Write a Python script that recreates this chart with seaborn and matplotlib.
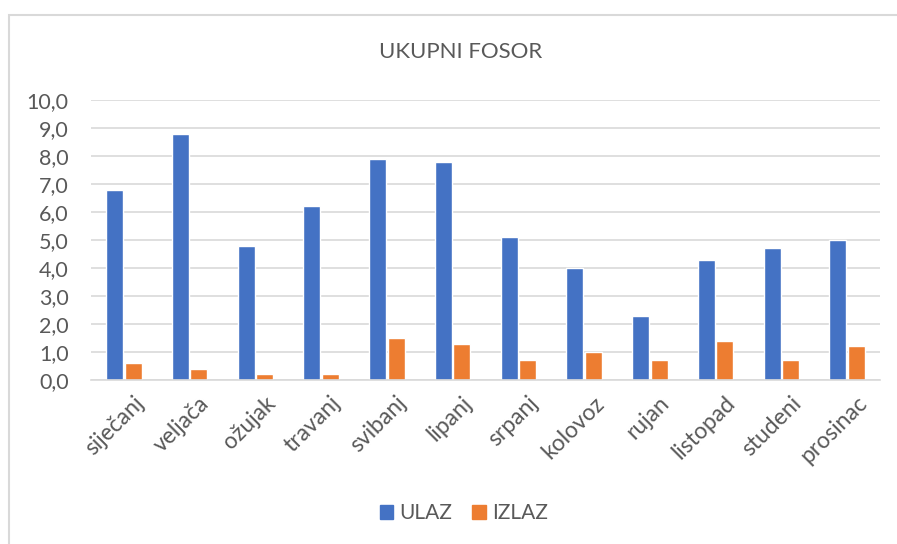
import numpy as np
import pandas as pd
import seaborn as sns
import matplotlib.pyplot as plt
from matplotlib.patches import Rectangle
import matplotlib.transforms as mtransforms

months = ["siječanj", "veljača", "ožujak", "travanj", "svibanj", "lipanj",
          "srpanj", "kolovoz", "rujan", "listopad", "studeni", "prosinac"]
ulaz = [6.8, 8.8, 4.8, 6.2, 7.9, 7.8, 5.1, 4.0, 2.3, 4.3, 4.7, 5.0]
izlaz = [0.6, 0.4, 0.2, 0.2, 1.5, 1.3, 0.7, 1.0, 0.7, 1.4, 0.7, 1.2]
series = ["ULAZ", "IZLAZ"]
colors = ["#4472C4", "#ED7D31"]

df = pd.DataFrame({"Mjesec": months * 2,
                   "Serija": [series[0]] * 12 + [series[1]] * 12,
                   "Vrijednost": ulaz + izlaz})

sns.set_style("white")
plt.rcParams["font.family"] = ["Lato", "DejaVu Sans"]
txt = "#595959"

fig = plt.figure(figsize=(8.97, 5.44), dpi=100)
ax = fig.add_axes([91 / 897, 1 - 380 / 544, 789 / 897, 280 / 544])

sns.barplot(data=df, x="Mjesec", y="Vrijednost", hue="Serija",
            palette=colors, saturation=1, width=0.56, gap=0.07, ax=ax,
            legend=False)

ax.set_ylim(0, 10)
ax.set_yticks(np.arange(0, 11, 1))
ax.set_yticklabels([f"{v:.1f}".replace(".", ",") for v in range(11)],
                   fontsize=15.5, color=txt)
ax.yaxis.grid(True, color="#d9d9d9", linewidth=1.2)
ax.set_axisbelow(True)
for s in ["top", "right", "left"]:
    ax.spines[s].set_visible(False)
ax.spines["bottom"].set_color("#d9d9d9")
ax.spines["bottom"].set_linewidth(1.2)
ax.tick_params(axis="y", length=0, pad=16)
ax.tick_params(axis="x", length=0, pad=6)
ax.set_xlabel("")
ax.set_ylabel("")

ax.set_xticks(range(12))
ax.set_xticklabels(months, rotation=45, ha="right", rotation_mode="anchor",
                   fontsize=16.5, color=txt)
offset = mtransforms.ScaledTranslation(9 / 100, -4 / 100, fig.dpi_scale_trans)
for lab in ax.get_xticklabels():
    lab.set_transform(lab.get_transform() + offset)

fig.text(0.513, 1 - 52 / 544, "UKUPNI FOSOR", ha="center", va="center",
         fontsize=16, color=txt)

# legend
handles = [plt.Rectangle((0, 0), 1, 1, color=c) for c in colors]
fig.legend(handles, series, loc="center", bbox_to_anchor=(0.517, 1 - 513 / 544),
           ncol=2, frameon=False, fontsize=15, handlelength=0.65,
           handleheight=0.65, handletextpad=0.3, columnspacing=0.95,
           labelcolor=txt)

# outer chart border
fig.patches.append(Rectangle((8.5 / 897, -0.1), 1.2, 1.1 - 15 / 544,
                             transform=fig.transFigure, fill=False,
                             edgecolor="#d9d9d9", linewidth=1.5))

fig.savefig("out.png", dpi=100)
